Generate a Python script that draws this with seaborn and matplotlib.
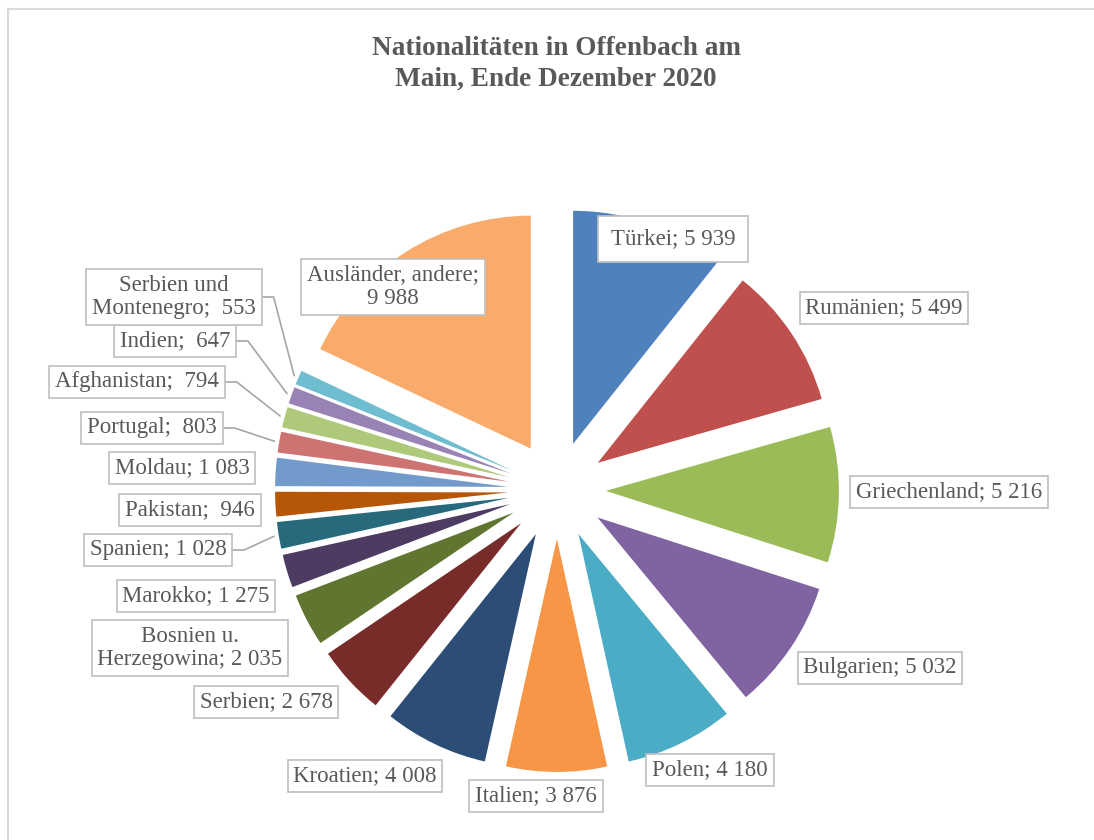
import numpy as np
import matplotlib
matplotlib.use("Agg")
import matplotlib.pyplot as plt
import matplotlib.patches as patches
import seaborn as sns

# data, clockwise from 12 o'clock
categories = ["Türkei", "Rumänien", "Griechenland", "Bulgarien", "Polen", "Italien",
              "Kroatien", "Serbien", "Bosnien u.\nHerzegowina", "Marokko", "Spanien",
              "Pakistan", "Moldau", "Portugal", "Afghanistan", "Indien",
              "Serbien und\nMontenegro", "Ausländer, andere;\n"]
values = [5939, 5499, 5216, 5032, 4180, 3876, 4008, 2678, 2035, 1275, 1028,
          946, 1083, 803, 794, 647, 553, 9988]
colors = ["#4F81BD", "#C0504D", "#9BBB59", "#8064A2", "#4BACC6", "#F79646",
          "#2C4D75", "#772C2A", "#5F7530", "#4D3B62", "#276A7C", "#B65708",
          "#729ACA", "#CD7371", "#AFC97A", "#9983B5", "#6FBDD1", "#F9AB6B"]

# label box centers in pixels (layout only)
label_px = [(673, 239), (884, 308), (949, 492), (880, 668), (710, 770), (536, 796),
            (365, 776), (266, 702), (190, 648), (196, 596), (158, 550), (190, 510),
            (182, 468), (152, 428), (137, 382), (175, 341), (174, 297), (393, 287)]
leaders = {"Spanien", "Portugal", "Afghanistan", "Indien", "Serbien und\nMontenegro"}

sns.set_theme(style="white")
plt.rcParams["font.family"] = ["Liberation Serif", "DejaVu Serif"]

W, H = 1094, 840
cx, cy, rad = 557, 490, 233
txt_color = "#595959"


def px(x, y):
    return (x - cx) / rad, (cy - y) / rad


def fmt(v):
    if v < 1000:
        return " " + str(v)
    return f"{v:,}".replace(",", " ")


fig = plt.figure(figsize=(W / 100, H / 100), dpi=100)
ax = fig.add_axes([0, 0, 1, 1])
wedges, _ = ax.pie(values, colors=colors, startangle=90, counterclock=False,
                   explode=[0.21] * len(values), radius=1,
                   wedgeprops=dict(linewidth=0))
ax.set_xlim(-cx / rad, (W - cx) / rad)
ax.set_ylim(-(H - cy) / rad, cy / rad)
ax.set_aspect("equal")
ax.axis("off")

texts = []
for name, v, (lx, ly) in zip(categories, values, label_px):
    if name.endswith(";\n"):
        s = name + fmt(v)
    else:
        s = f"{name}; {fmt(v)}"
    pad = 0.55 if name == "Türkei" else 0.25
    t = ax.text(*px(lx, ly), s, ha="center", va="center", fontsize=16.5,
                color=txt_color, linespacing=1.15, zorder=5,
                bbox=dict(boxstyle=f"square,pad={pad}", fc="white",
                          ec="#BFBFBF", lw=1.2))
    texts.append(t)

fig.canvas.draw()
inv = ax.transData.inverted()
for w, name, t in zip(wedges, categories, texts):
    if name not in leaders:
        continue
    bb = t.get_bbox_patch().get_window_extent()
    x0, y0 = inv.transform((bb.x1, (bb.y0 + bb.y1) / 2))
    x1 = x0 + 12 / rad
    th = np.deg2rad((w.theta1 + w.theta2) / 2)
    ex = w.center[0] + 1.02 * np.cos(th)
    ey = w.center[1] + 1.02 * np.sin(th)
    ax.plot([x0, x1, ex], [y0, y0, ey], color="#A6A6A6", lw=1.2, zorder=4)

fig.text(556 / W, 1 - 64 / H, "Nationalitäten in Offenbach am\nMain, Ende Dezember 2020",
         ha="center", va="center", fontsize=19.6, fontweight="bold",
         color=txt_color, linespacing=1.3)

fig.patches.append(patches.Rectangle((8 / W, -0.02), 1.05, 1 - 9 / H + 0.02,
                                     transform=fig.transFigure, fill=False,
                                     ec="#D9D9D9", lw=1.5))

fig.savefig("out.png", dpi=100)
